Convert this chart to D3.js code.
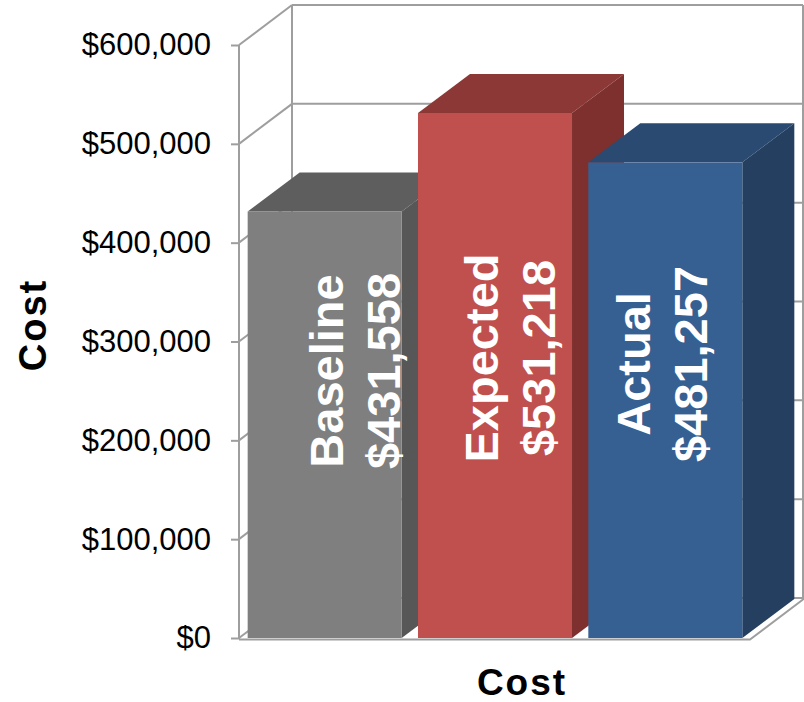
<!DOCTYPE html>
<html>
<head>
<meta charset="utf-8">
<script src="https://cdn.jsdelivr.net/npm/d3@7"></script>
<style>
  html, body { margin: 0; padding: 0; background: #fff; }
  svg { display: block; }
</style>
</head>
<body>
<svg id="chart" width="804" height="702"></svg>
<script>
// ---- data ----
const categories = ["Baseline", "Expected", "Actual"];
const values = [431558, 531218, 481257];
const valueLabels = ["$431,558", "$531,218", "$481,257"];
const tickValues = [0, 100000, 200000, 300000, 400000, 500000, 600000];
const axisTitle = "Cost";
const categoryTitle = "Cost";

// ---- styles / layout ----
const frontColors = ["#7f7f7f", "#c0504d", "#376092"];
const topColors   = ["#5e5e5e", "#8c3836", "#2a4a72"];
const sideColors  = ["#575757", "#7d302e", "#243f60"];
const frameColor = "#9e9e9e";
const labelShift = [{dx: 95, cy: 371}, {dx: 80, cy: 358}, {dx: 62, cy: 364}];
const lineGap = 57;

const svg = d3.select("#chart");
const axisX = 239;
const floorRight = 750;
const wallDx = 53, wallDy = -40;
const barDx = 52, barDy = -39;

const y = d3.scaleLinear().domain([0, 600000]).range([638, 45]);
const x = d3.scaleBand().domain(categories).range([240, 750])
  .paddingInner(0.0957).paddingOuter(0.045);

const frame = svg.append("g").attr("fill", "none").attr("stroke", frameColor).attr("stroke-width", 2);
const y0 = y(0), yTop = y(600000);

// back wall gridlines and left wall diagonals
tickValues.forEach(t => {
  frame.append("line")
    .attr("x1", axisX + wallDx).attr("y1", y(t) + wallDy)
    .attr("x2", floorRight + wallDx).attr("y2", y(t) + wallDy);
  frame.append("line")
    .attr("x1", axisX).attr("y1", y(t))
    .attr("x2", axisX + wallDx).attr("y2", y(t) + wallDy);
});
// back wall verticals
frame.append("line").attr("x1", axisX + wallDx).attr("y1", yTop + wallDy)
  .attr("x2", axisX + wallDx).attr("y2", y0 + wallDy);
frame.append("line").attr("x1", floorRight + wallDx).attr("y1", yTop + wallDy)
  .attr("x2", floorRight + wallDx).attr("y2", y0 + wallDy + 2);
// front axis line
frame.append("line").attr("x1", axisX).attr("y1", yTop).attr("x2", axisX).attr("y2", y0 + 1);
// floor
frame.append("path")
  .attr("d", `M${axisX},${y0 + 1.5} L${floorRight},${y0 + 1.5} L${floorRight + wallDx},${y0 + 1.5 + wallDy}`);

// y axis ticks & labels
const yAxis = d3.axisLeft(y).tickValues(tickValues).tickFormat(d3.format("$,.0f"))
  .tickSizeInner(8).tickSizeOuter(0).tickPadding(20);
const ag = svg.append("g").attr("transform", `translate(${axisX},0)`).call(yAxis);
ag.select(".domain").remove();
ag.selectAll(".tick line").attr("stroke", frameColor).attr("stroke-width", 2);
ag.selectAll(".tick text")
  .attr("font-family", "'Liberation Sans', Arial, sans-serif")
  .attr("font-size", 31).attr("fill", "#000");

// bars
const bars = svg.append("g");
categories.forEach((c, i) => {
  const bx = x(c), bw = x.bandwidth(), by = y(values[i]);
  const g = bars.append("g");
  g.append("path")
    .attr("d", `M${bx},${by} L${bx + bw},${by} L${bx + bw + barDx},${by + barDy} L${bx + barDx},${by + barDy} Z`)
    .attr("fill", topColors[i]);
  g.append("path")
    .attr("d", `M${bx + bw},${by} L${bx + bw + barDx},${by + barDy} L${bx + bw + barDx},${y0 + barDy} L${bx + bw},${y0} Z`)
    .attr("fill", sideColors[i]);
  g.append("rect")
    .attr("x", bx).attr("y", by).attr("width", bw).attr("height", y0 - by)
    .attr("fill", frontColors[i]);
  const lines = [c, valueLabels[i]];
  lines.forEach((txt, j) => {
    g.append("text")
      .attr("transform", `translate(${bx + labelShift[i].dx + j * lineGap},${labelShift[i].cy}) rotate(-90)`)
      .attr("text-anchor", "middle")
      .attr("font-family", "'Liberation Sans', Arial, sans-serif")
      .attr("font-weight", "bold").attr("font-size", 47)
      .attr("fill", "#fff")
      .text(txt);
  });
});

// titles
svg.append("text")
  .attr("transform", `translate(46,325) rotate(-90)`)
  .attr("text-anchor", "middle")
  .attr("font-family", "'Liberation Sans', Arial, sans-serif")
  .attr("font-weight", "bold").attr("font-size", 38).attr("letter-spacing", 2)
  .text(axisTitle);
svg.append("text")
  .attr("x", 522).attr("y", 695)
  .attr("text-anchor", "middle")
  .attr("font-family", "'Liberation Sans', Arial, sans-serif")
  .attr("font-weight", "bold").attr("font-size", 37).attr("letter-spacing", 2)
  .text(categoryTitle);
</script>
</body>
</html>
